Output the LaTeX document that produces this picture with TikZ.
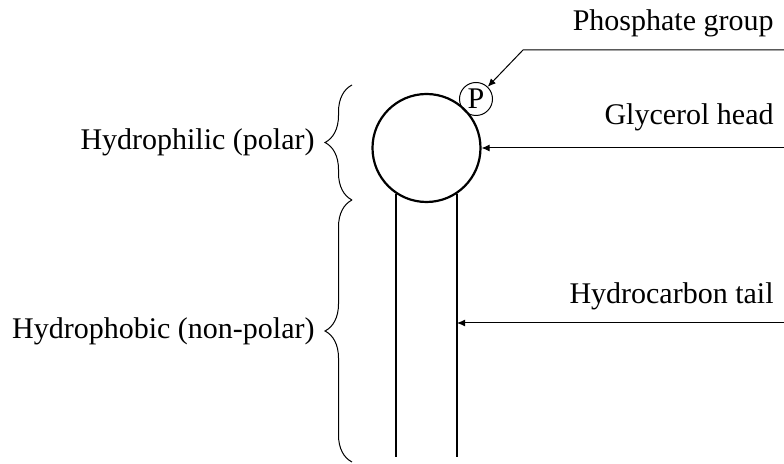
\documentclass[tikz,border=0pt]{standalone}
\usepackage{fontspec}
\setmainfont{Liberation Serif}
\usetikzlibrary{arrows.meta, decorations.pathreplacing, calc}
\tikzset{
  tag/.style={
    font=\fontsize{15}{18}\selectfont,
    inner sep=5pt
  },
  headcircle/.style={
    circle,
    draw,
    line width=1.1pt,
    minimum size=54pt,
    inner sep=0pt
  },
  phos/.style={
    circle,
    draw,
    line width=0.5pt,
    minimum size=16.5pt,
    inner sep=0pt,
    font=\fontsize{15}{17}\selectfont
  },
  tailline/.style={line width=1.1pt},
  arrow/.style={-{Latex[length=4pt, width=3.5pt]}, line width=0.5pt},
  curly/.style={decorate, decoration={brace, amplitude=13.5pt}, line width=0.5pt}
}

\begin{document}
\begin{tikzpicture}[x=0.5pt, y=-0.5pt]
  \useasboundingbox (0,0) rectangle (784,464);

  % molecule
  \node[headcircle] (head) at (426.5,148) {};
  \node[phos] (P) at (476,99) {P};
  \coordinate (tailLbot) at (396,457);
  \coordinate (tailRbot) at (457,457);
  \draw[tailline] (head.236) -- (head.236 |- tailLbot);
  \draw[tailline] (head.304) -- (head.304 |- tailRbot);

  % right labels
  \node[tag, anchor=south east] (phoslbl) at (784,47) {Phosphate group};
  \node[tag, anchor=south east] (glylbl) at (784,141) {Glycerol head};
  \node[tag, anchor=south east] (taillbl) at (784,320) {Hydrocarbon tail};
  \coordinate (phosend) at (784,50);
  \coordinate (phosbend) at (523,50);
  \coordinate (glyend) at (784,148);
  \coordinate (tailend) at (784,323);

  \draw[arrow] (phosend) -- (phosbend) -- (P);
  \draw[arrow] (glyend) -- (head);
  \draw[arrow] (tailend) -- (tailend -| tailRbot);

  % braces
  \coordinate (philtop) at (352,85);
  \coordinate (split) at (352,200);
  \coordinate (phobbot) at (352,462);
  \draw[curly] (split) -- (philtop);
  \draw[curly] (phobbot) -- (split);
  \node[tag, anchor=east] (philic) at (325,142.5) {Hydrophilic (polar)};
  \node[tag, anchor=east] (phobic) at (325,331) {Hydrophobic (non-polar)};
\end{tikzpicture}
\end{document}
